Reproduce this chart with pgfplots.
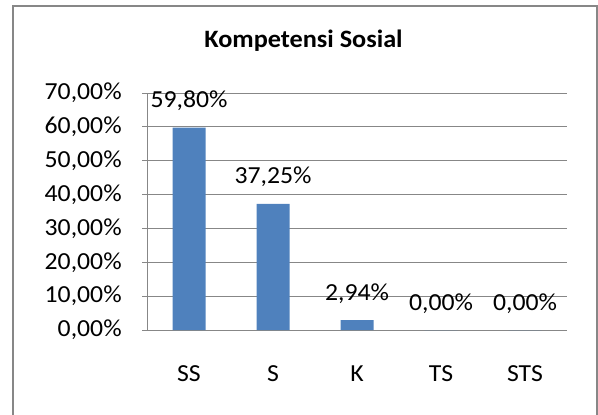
\documentclass[border=0pt]{standalone}
\usepackage{fontspec}
\setmainfont[FakeStretch=1.05]{Carlito}
\usepackage{pgfplots}
\pgfplotsset{compat=1.18}
\definecolor{barBlue}{HTML}{4F81BD}
\definecolor{gridGray}{HTML}{878787}
\begin{document}
\fontsize{24.5bp}{28bp}\selectfont
\begin{tikzpicture}[x=1bp,y=1bp]
    \path[use as bounding box] (0,0) rectangle (598,414);
    \draw[gridGray, line width=1.6bp] (13,-10) rectangle (597,408);
    \begin{axis}[
        at={(147bp,84bp)}, anchor=south west,
        scale only axis, width=420bp, height=237bp,
        xmin=-0.5, xmax=4.5, ymin=0, ymax=70,
        ybar, bar width=33bp,
        axis lines*=left,
        axis line style={gridGray, line width=1bp},
        xtick=data, xticklabels={SS,S,K,TS,STS},
        xtick style={draw=none},
        xticklabel style={anchor=base, yshift=-46bp},
        ytick={0,10,...,70},
        tick align=outside, major tick length=5bp,
        ytick style={gridGray, line width=1bp},
        ymajorgrids, grid style={gridGray, line width=1bp},
        yticklabel={\pgfmathprintnumber[fixed,fixed zerofill,precision=2,use comma,assume math mode=true]{\tick}\%},
        yticklabel style={anchor=east, xshift=-12bp},
        nodes near coords={\pgfmathprintnumber[fixed,fixed zerofill,precision=2,use comma,assume math mode=true]{\pgfplotspointmeta}\%},
        every node near coord/.append style={anchor=base, yshift=20bp, inner sep=0pt},
        title={Kompetensi Sosial},
        title style={at={(0.3726,1)}, anchor=base, yshift=40bp, font=\fontsize{25bp}{29bp}\selectfont\bfseries},
    ]
        \addplot[fill=barBlue, draw=none] coordinates {(0,59.80) (1,37.25) (2,2.94) (3,0) (4,0)};
    \end{axis}
\end{tikzpicture}
\end{document}
